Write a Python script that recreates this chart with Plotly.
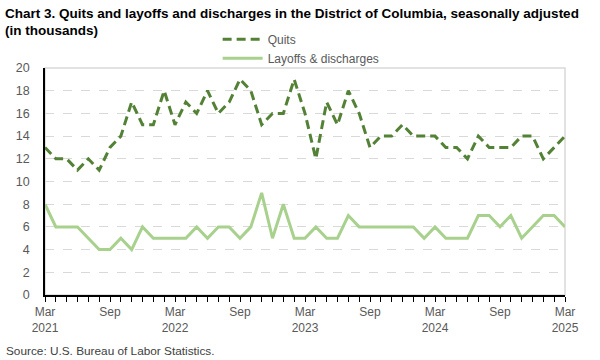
import plotly.graph_objects as go

month_names = ["Jan", "Feb", "Mar", "Apr", "May", "Jun", "Jul", "Aug", "Sep", "Oct", "Nov", "Dec"]
months = []
y, m = 2021, 2
for _ in range(49):
    months.append(f"{month_names[m]} {y}")
    m += 1
    if m == 12:
        m = 0
        y += 1

quits = [13, 12, 12, 11, 12, 11, 13, 14, 17, 15,
         15, 18, 15, 17, 16, 18, 16, 17, 19, 18, 15, 16,
         16, 19, 16, 12, 17, 15, 18, 16, 13, 14, 14, 15,
         14, 14, 14, 13, 13, 12, 14, 13, 13, 13, 14, 14,
         12, 13, 14]
layoffs = [8, 6, 6, 6, 5, 4, 4, 5, 4, 6,
           5, 5, 5, 5, 6, 5, 6, 6, 5, 6, 9, 5,
           8, 5, 5, 6, 5, 5, 7, 6, 6, 6, 6, 6,
           6, 5, 6, 5, 5, 5, 7, 7, 6, 7, 5, 6,
           7, 7, 6]

tick_idx = list(range(0, 49, 6))
tick_text = [("Mar<br>" + months[i].split()[1]) if months[i].startswith("Mar") else "Sep" for i in tick_idx]
y_ticks = list(range(0, 21, 2))

title_line1 = "Chart 3. Quits and layoffs and discharges in the District of Columbia, seasonally adjusted"
title_line2 = "(in thousands)"
source_text = "Source: U.S. Bureau of Labor Statistics."

x = list(range(len(months)))

fig = go.Figure()
fig.add_trace(go.Scatter(x=x, y=quits, name="Quits", mode="lines",
                         line=dict(color="#538135", width=3, dash="9px,5px"),
                         customdata=months, hovertemplate="%{customdata}: %{y}<extra>Quits</extra>"))
fig.add_trace(go.Scatter(x=x, y=layoffs, name="Layoffs & discharges", mode="lines",
                         line=dict(color="#A9D18E", width=3),
                         customdata=months, hovertemplate="%{customdata}: %{y}<extra>Layoffs & discharges</extra>"))

fig.update_layout(
    width=600, height=360,
    margin=dict(l=45, r=35, t=68, b=65, autoexpand=False),
    paper_bgcolor="white", plot_bgcolor="white",
    font=dict(family="Liberation Sans, Arial, sans-serif", size=12, color="#595959"),
    legend=dict(x=0.332, y=1.19, xanchor="left", yanchor="top", orientation="v",
                font=dict(size=12, color="#595959"), bgcolor="rgba(0,0,0,0)",
                tracegroupgap=0, itemwidth=40),
    showlegend=True,
)
fig.update_xaxes(range=[0, 48], tickmode="array", tickvals=tick_idx, ticktext=tick_text,
                 showgrid=False, zeroline=False, showline=True, linecolor="#000000", linewidth=1.5,
                 ticks="outside", ticklen=5, tickcolor="#000000",
                 minor=dict(dtick=1, tick0=0, ticks="outside", ticklen=5, tickcolor="#000000", showgrid=False),
                 tickfont=dict(size=12, color="#595959"))
fig.update_yaxes(range=[0, 20], tickmode="array", tickvals=y_ticks,
                 showgrid=True, gridcolor="#D9D9D9", griddash="dash", gridwidth=1,
                 zeroline=False, showline=True, linecolor="#000000", linewidth=1.5,
                 ticks="", ticklabelstandoff=11, tickfont=dict(size=12.5, color="#595959"))

fig.add_shape(type="rect", xref="paper", yref="paper", x0=0, x1=1, y0=0, y1=1,
              line=dict(color="#D9D9D9", width=1.5), layer="below")

fig.add_annotation(text="<b>" + title_line1 + "</b>", xref="paper", yref="paper",
                   x=-0.081, y=1.242, xanchor="left", yanchor="middle", showarrow=False,
                   font=dict(size=13.5, color="#000000"))
fig.add_annotation(text="<b>" + title_line2 + "</b>", xref="paper", yref="paper",
                   x=-0.081, y=1.163, xanchor="left", yanchor="middle", showarrow=False,
                   font=dict(size=13.5, color="#000000"))
fig.add_annotation(text=source_text, xref="paper", yref="paper",
                   x=-0.079, y=-0.247, xanchor="left", yanchor="middle", showarrow=False,
                   font=dict(size=11.8, color="#404040"))

fig.write_html("out.html", config={"displayModeBar": False},
               post_script="document.body.style.margin='0';")
